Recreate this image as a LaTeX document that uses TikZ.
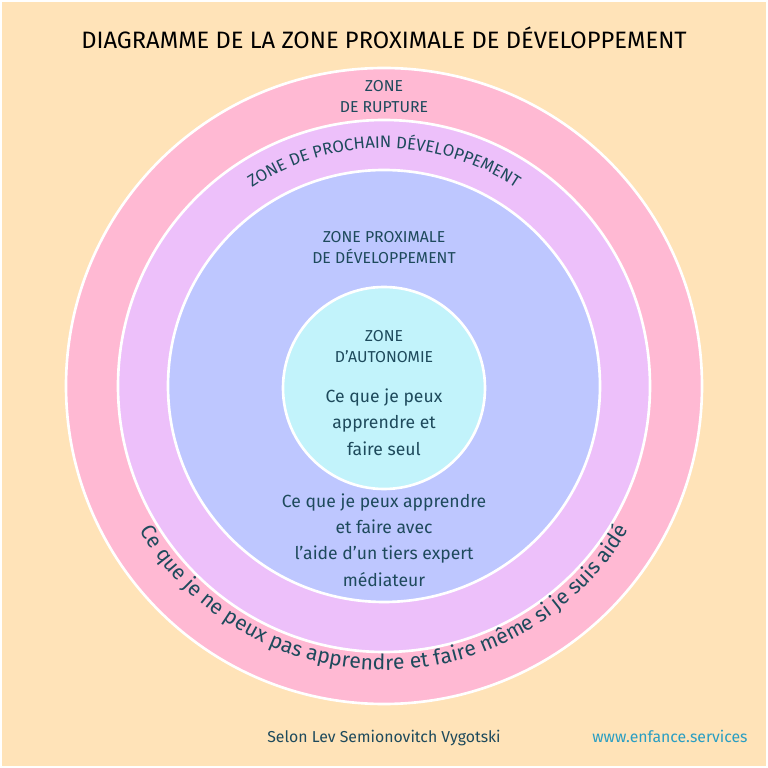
\documentclass[tikz,border=0pt]{standalone}
\usepackage{fontspec}
\setmainfont{Fira Sans}
\usetikzlibrary{decorations.text}
\definecolor{bg}{HTML}{FFE3B8}
\definecolor{pinkz}{HTML}{FFB9D3}
\definecolor{purz}{HTML}{EDC0FA}
\definecolor{bluz}{HTML}{BEC7FF}
\definecolor{cyz}{HTML}{C2F3FB}
\definecolor{tx}{HTML}{1E4A5C}
\definecolor{web}{HTML}{2A9EC2}
\tikzset{ring/.style={draw=white,line width=1.5pt},
 lab/.style={text=tx,align=center,font=\fontsize{9}{12}\selectfont},
 body/.style={text=tx,align=center,font=\fontsize{10}{15}\selectfont}}
\begin{document}
\begin{tikzpicture}[x=0.02cm,y=0.02cm]
\fill[bg] (0,0) rectangle (768,768);
\draw[white,line width=1pt] (1,1) rectangle (767,767);
\coordinate (C) at (384,382);
\coordinate (Ci) at (384,380);
\draw[ring,fill=pinkz] (C) circle (318);
\draw[ring,fill=purz] (C) circle (266);
\draw[ring,fill=bluz] (C) circle (216);
\draw[ring,fill=cyz] (Ci) circle (101);
\node[font=\fontsize{13.5}{16}\selectfont] (title) at (384,730) {DIAGRAMME DE LA ZONE PROXIMALE DE DÉVELOPPEMENT};
\node[lab] (rup) at (384,671) {ZONE\\DE RUPTURE};
\node[lab] (zpd) at (384,520) {ZONE PROXIMALE\\DE DÉVELOPPEMENT};
\node[lab] (aut) at (384,421) {ZONE\\D’AUTONOMIE};
\node[body] (seul) at (384,346) {Ce que je peux\\apprendre et\\faire seul};
\node[body] (aide) at (384,228) {Ce que je peux apprendre\\et faire avec\\l’aide d’un tiers expert\\médiateur};
\path[decorate,decoration={text along path,text align=center,
 text={|\fontsize{9.5}{12}\selectfont\color{tx}|ZONE DE PROCHAIN D{É}VELOPPEMENT}}]
 (C) ++(130:238) arc (130:50:238);
\path[decorate,decoration={text along path,text align=center,
 text={|\fontsize{12}{14}\selectfont\color{tx}|Ce que je ne peux pas apprendre et faire m{ê}me si je suis aid{é}}}]
 (C) ++(-156:284) arc (-156:-24:284);
\node[text=tx,font=\fontsize{9}{11}\selectfont] (src) at (384,30) {Selon Lev Semionovitch Vygotski};
\node[text=web,font=\fontsize{9}{11}\selectfont] (www) at (670,32) {www.enfance.services};
\end{tikzpicture}
\end{document}
